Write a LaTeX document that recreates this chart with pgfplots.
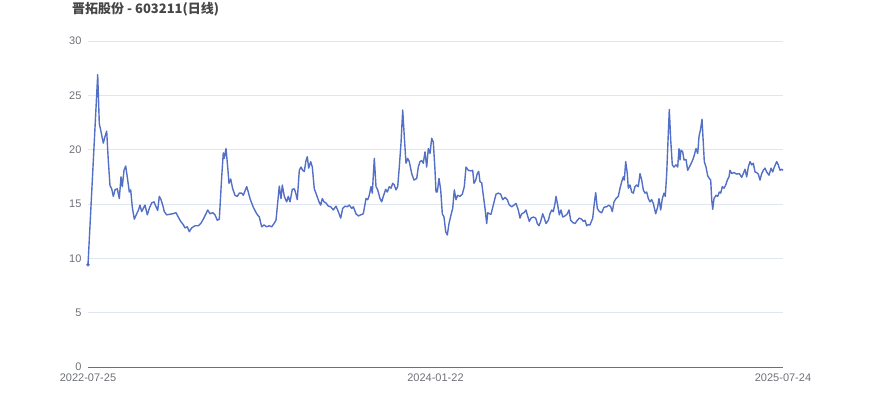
\documentclass[border=0pt]{standalone}
\usepackage{fontspec}
\setmainfont{Liberation Sans}
\newfontfamily\cjk{Noto Sans CJK SC}
\usepackage{pgfplots}
\pgfplotsset{compat=1.18}
\definecolor{lc}{HTML}{5470C6}
\definecolor{gridc}{HTML}{E0E6F1}
\definecolor{axc}{HTML}{6E7079}
\definecolor{titc}{HTML}{464646}
\begin{document}
\begin{tikzpicture}
\path[use as bounding box] (0,0) rectangle (870bp,417bp);
\node[anchor=west, inner sep=0pt, text=titc] at (72bp,408bp) {\cjk\bfseries\fontsize{13bp}{15bp}\selectfont 晋拓股份 - 603211(日线)};
\begin{axis}[
  at={(88bp,50bp)}, anchor=south west,
  scale only axis, width=695bp, height=326bp,
  xmin=0, xmax=695, ymin=0, ymax=30,
  ytick={0,5,10,15,20,25,30},
  xtick={0,347.5,695},
  xticklabels={2022-07-25,2024-01-22,2025-07-24},
  axis lines*=left,
  x axis line style={draw=axc, line width=0.8bp},
  y axis line style={draw=none},
  major tick length=0pt,
  ymajorgrids, grid style={draw=gridc, line width=0.8bp},
  tick label style={text=axc, font=\fontsize{11bp}{13bp}\selectfont},
  /pgf/number format/assume math mode=true,
  yticklabel style={xshift=-3bp},
  xticklabel style={yshift=-3bp},
  clip=false,
]
\addplot[lc, line width=1.4bp, line join=round] coordinates {
(0,9.4)(9.7,26.9)(11.3,22.4)(12.7,21.8)(15.3,20.6)(17,21.2)(18.7,21.7)(20.3,19.0)(22,16.7)(23.7,16.4)
(25.3,15.7)(27,16.3)(29.3,16.4)(31.3,15.5)(33,17.5)(34.3,16.6)(36,18.1)(37.7,18.5)(39.7,17.2)(41.3,16.1)
(42.7,16.3)(44.3,14.7)(46.3,13.6)(48.7,14.1)(50.3,14.4)(52,14.9)(53.7,14.3)(55.3,14.6)(57,14.9)(59.3,14.0)
(61.3,14.6)(63.7,15.1)(66,15.2)(68,14.75)(69.7,14.4)(71.3,15.7)(73,15.4)(74.7,14.9)(76.3,14.3)(78.7,14.0)
(81.3,14.05)(84.7,14.1)(88,14.2)(90.3,13.8)(92.7,13.4)(95.3,13.1)(97,12.8)(99.3,12.9)(101.3,12.45)(103.7,12.8)
(107,13.0)(110.3,13.0)(112.7,13.2)(115.3,13.6)(118,14.1)(119.7,14.45)(122,14.1)(124.7,14.2)(127,14.0)(129.3,13.5)
(131.3,13.6)(133.7,17.5)(135.3,19.7)(136.3,19.2)(138,20.1)(139.7,18.4)(141,16.9)(142.7,17.3)(144.7,16.4)(147,15.8)
(149.3,15.7)(151.3,16.0)(153.7,16.0)(155.3,15.8)(157,16.2)(158.7,16.6)(160.3,16.1)(162,15.5)(165.3,14.7)(168.7,14.1)
(171.3,13.8)(173.7,12.9)(176,13.07)(178.7,12.9)(181.3,13.0)(183.7,12.9)(186,13.2)(188,13.5)(189.3,14.75)(191.3,16.65)
(193,15.5)(194.3,16.75)(196.3,15.7)(198.7,15.2)(200.3,15.7)(202,15.2)(204.3,16.35)(206.3,16.4)(207.7,16.0)(209.3,15.4)
(211.3,18.1)(213,18.4)(214.7,18.1)(216.3,18.0)(218,19.0)(219.3,19.35)(220.7,18.3)(222.7,18.9)(224.3,18.4)(226.3,16.4)
(228.7,15.8)(231,15.2)(232.7,14.9)(234.3,15.5)(236,15.2)(238,15.1)(240.3,14.8)(242.7,14.75)(245.3,14.45)(248,14.8)
(250.3,14.3)(252.7,13.7)(254.7,14.6)(257,14.8)(259.3,14.75)(261.3,14.9)(263.7,14.6)(265.3,14.75)(268,14.1)(270.3,13.9)
(272.7,14.0)(275.3,14.1)(278,15.5)(279.7,15.4)(281.3,15.8)(283,16.6)(284.3,16.0)(286.3,19.2)(288,16.6)(289.7,16.3)
(292,15.5)(293.7,15.2)(295.3,15.7)(297.7,16.35)(299.3,16.1)(301.3,16.6)(303,16.45)(304.7,16.9)(306.3,16.75)(308,16.3)
(309.7,16.6)(311.3,18.4)(313,20.6)(314.7,23.65)(316.3,21.2)(318,18.75)(319.7,19.2)(321.3,18.9)(323.7,17.8)(326,17.2)
(328.7,17.35)(330.3,18.4)(332,18.9)(333.7,19.0)(335.3,18.75)(337,19.8)(338.7,18.4)(340.3,20.1)(342,19.65)(343.7,21.05)
(345.3,20.7)(347,18.1)(348,16.1)(349.3,16.1)(351,17.35)(352.7,16.3)(354.3,14.1)(356,13.8)(357.7,12.45)(359.3,12.15)
(361,13.2)(363,14.0)(364.7,14.6)(366.3,16.3)(368,15.4)(369.7,15.8)(372,15.7)(374.3,15.9)(376.3,16.6)(378,18.4)
(380.3,18.1)(382.7,18.05)(384.7,18.1)(386,16.9)(387.7,17.2)(389.3,17.8)(390.7,18.0)(392,17.05)(393.7,16.95)(395.3,15.8)
(397,14.6)(398.7,13.2)(399.7,14.2)(401.3,14.1)(403,14.05)(405.3,14.9)(408,15.9)(410.3,16.0)(412.7,15.9)(414.7,15.4)
(417,15.6)(419.3,15.4)(421.3,14.9)(423.7,14.75)(426,14.9)(428,15.05)(430.3,14.45)(432,13.7)(433.7,14.1)(436,14.2)
(438,14.45)(439.3,14.0)(441.3,13.4)(443,13.7)(445.3,13.8)(447.7,13.7)(449.3,13.2)(451,13.0)(452.7,13.4)(454.7,14.1)
(456.3,13.7)(458,13.2)(460.3,13.5)(462,14.1)(463.7,14.45)(465.3,14.3)(467,15.05)(468,15.7)(469.7,14.9)(471.3,14.0)
(473,14.45)(474.7,13.8)(477,13.9)(479.3,14.1)(481,14.45)(482.7,13.5)(484.7,13.3)(487,13.2)(489.3,13.5)(491.3,13.7)
(493.7,13.6)(495.3,13.4)(497,13.5)(498.7,13.0)(500.3,13.1)(502,13.07)(504.7,13.7)(506.3,15.05)(507.7,16.05)(509.3,14.6)
(511.3,14.3)(513.7,14.2)(516,14.7)(518.7,14.75)(521,14.9)(522.7,14.75)(524.3,14.3)(526,15.2)(528,15.5)(530.3,15.7)
(532,16.45)(533.7,17.05)(535.3,17.5)(536.3,17.2)(537.7,18.9)(539.3,17.8)(540.3,16.45)(542,16.75)(543.7,16.1)(545.3,16.0)
(547,16.6)(548.7,16.75)(550.3,16.6)(552,17.8)(553.7,17.2)(555.3,16.3)(557,16.0)(558.7,16.1)(560.3,15.5)(562,15.2)
(563.7,15.4)(565.3,15.05)(567.7,14.1)(569.7,14.75)(571,15.5)(572.7,14.45)(574.3,15.5)(576,16.0)(577.3,15.7)(578.7,17.8)
(580.3,21.5)(581.3,23.7)(582.7,20.9)(584.3,18.6)(586,18.4)(588,18.6)(589.7,18.4)(591,20.1)(592,19.05)(593,19.95)
(594.7,19.8)(596,19.05)(598,19.1)(599.7,18.1)(601.3,18.4)(603,18.7)(604.7,19.05)(606.3,19.5)(608,20.1)(609.7,19.65)
(611,21.2)(612.7,21.95)(614,22.8)(615.3,20.6)(616.3,18.9)(618,18.4)(619.7,17.6)(621.3,17.35)(622.7,17.2)(623.7,15.4)
(624.7,14.5)(626,15.5)(628,15.8)(629.7,15.7)(631.3,16.1)(632.7,16.0)(634.3,16.6)(636,16.45)(637.7,16.75)(639.3,17.2)
(641,17.5)(642,18.1)(643.7,17.8)(646,17.9)(648.7,17.75)(651.3,17.8)(653.7,17.45)(655.3,17.8)(657,18.2)(658.7,17.5)
(660.3,18.4)(662,18.9)(663.7,18.6)(665.3,18.75)(667,17.95)(668.7,17.9)(670.3,17.75)(672,17.2)(673.7,17.8)(675.3,18.1)
(677,18.3)(678.7,17.95)(681,17.65)(683,18.3)(684.7,17.95)(686.3,18.4)(688.7,18.9)(690.3,18.6)(692,18.1)(693.7,18.2)
(695,18.1)
};
\addplot[only marks, mark=*, mark size=1.6bp, mark options={fill=lc, draw=lc}] coordinates {(0,9.4)};
\end{axis}
\end{tikzpicture}
\end{document}
